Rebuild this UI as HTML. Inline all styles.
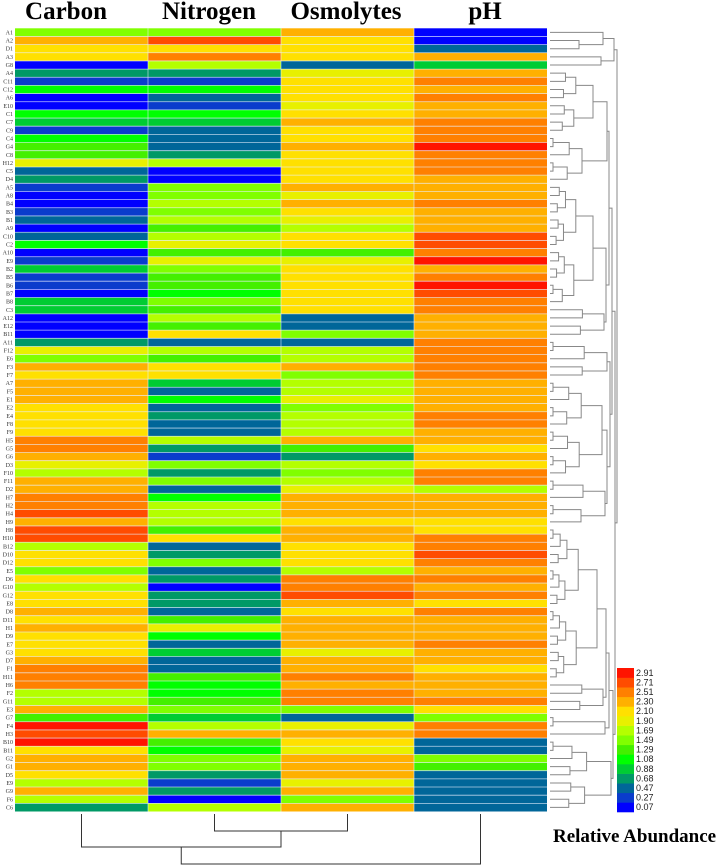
<!DOCTYPE html>
<html><head><meta charset="utf-8">
<style>
html,body{margin:0;padding:0;background:#fff;width:716px;height:866px;overflow:hidden}
svg{display:block}
</style></head>
<body>
<svg id="chart" width="716" height="866" viewBox="0 0 716 866" xmlns="http://www.w3.org/2000/svg">
<g id="titles" font-family="Liberation Serif, serif" font-weight="bold" font-size="25" text-anchor="middle">
<text x="66" y="19">Carbon</text>
<text x="209" y="19">Nitrogen</text>
<text x="346" y="19">Osmolytes</text>
<text x="485" y="19">pH</text>
</g>
<g id="cells"></g>
<g id="rowlabels" font-family="Liberation Serif, serif" font-size="6" fill="#333" text-anchor="end"></g>
<g id="rowdendro" stroke="#888" stroke-width="1" fill="none"></g>
<g id="coldendro" stroke="#333" stroke-width="1" fill="none"></g>
<g id="legend" font-family="Liberation Sans, sans-serif" font-size="9" fill="#222"></g>
<text x="553" y="842" font-family="Liberation Serif, serif" font-weight="bold" font-size="19">Relative Abundance</text>
</svg>
<script>
const rowLabels = ["A1","A2","D1","A3","G8","A4","C11","C12","A6","E10","C1","C7","C9","C4","G4","C8","H12","C5","D4","A5","A8","B4","B3","B1",
"A9","C10","C2","A10","E9","B2","B5","B6","B7","B8","C3","A12","E12","B11","A11","F12","E6","F3","F7","A7","F5","E1","E2","E4","F8",
"F9","H5","G5","G6","D3","F10","F11","D2","H7","H2","H4","H9","H8","H10","B12","D10","D12","E5","D6","G10","G12","E8","D8","D11","H1",
"D9","E7","G3","D7","F1","H11","H6","F2","G11","E3","G7","F4","H3","B10","B11","G2","G1","D5","E9","G9","F6","C6"];
const columns = ["Carbon","Nitrogen","Osmolytes","pH"];
const legendTicks = [0.07,0.27,0.47,0.68,0.88,1.08,1.29,1.49,1.69,1.90,2.10,2.30,2.51,2.71,2.91];
const legendColors = ["#0000ff","#0a3ccc","#006699","#009966","#00cc33","#00ff00","#44f000","#80ff00","#b4ff00","#e8f000","#ffe000","#ffb000","#ff8000","#ff4c00","#ff1400"];
const carbon = [1.49,2.30,2.10,2.10,0.07,0.68,0.27,1.08,0.07,0.07,1.08,0.88,0.27,1.08,1.29,1.29,1.90,0.47,0.68,0.27,0.07,0.07,0.27,0.47,
0.07,0.47,1.08,0.07,0.27,0.88,0.27,0.27,0.07,0.88,0.88,0.07,0.07,0.07,0.68,1.90,1.49,2.30,2.10,2.30,2.30,2.30,2.10,2.10,2.10,
2.10,2.51,2.51,2.30,1.90,1.69,2.30,2.30,2.51,2.51,2.71,2.30,2.71,2.71,1.69,2.10,2.10,1.49,2.10,1.69,2.10,2.10,2.30,2.10,2.30,
2.10,2.10,2.10,2.30,2.51,2.51,2.51,1.69,1.69,2.30,1.29,2.91,2.71,2.91,2.10,2.30,2.30,2.10,1.69,2.30,1.69,0.68];
const nitrogen = [1.49,2.71,2.10,2.51,1.69,0.68,0.27,1.08,0.47,0.27,1.08,0.88,0.47,0.47,0.47,0.68,1.69,0.07,0.07,1.49,1.49,1.69,1.49,1.69,
1.29,1.69,1.90,1.29,1.90,1.49,1.29,1.29,1.08,1.49,1.29,1.69,1.29,2.10,0.47,1.69,1.29,2.10,2.10,0.88,0.47,1.08,0.47,0.68,0.47,
0.47,1.69,0.68,0.27,1.49,0.68,1.49,0.47,1.08,1.69,1.69,1.69,1.29,2.10,0.47,0.68,1.49,0.47,0.68,0.07,0.68,0.68,0.47,1.29,1.90,
1.08,0.47,0.88,0.47,0.47,1.29,1.08,1.08,1.29,1.49,0.88,1.69,2.30,1.29,1.08,1.49,1.49,0.68,0.27,0.68,0.07,1.69];
const osmolytes = [2.30,2.10,2.10,2.10,0.47,1.90,2.10,2.10,2.10,1.90,2.10,2.30,2.10,2.10,2.30,2.10,2.10,2.10,2.10,2.30,1.90,2.30,2.10,1.90,
1.69,2.10,2.10,1.29,1.90,2.10,2.10,2.10,2.10,2.10,2.10,0.47,0.47,1.49,0.47,1.69,1.69,2.30,1.49,1.69,1.69,1.90,1.49,1.69,1.69,
1.69,2.30,1.29,0.68,1.69,1.49,1.69,1.90,2.30,2.30,2.30,2.10,2.30,2.30,2.10,2.10,2.10,1.69,2.51,2.51,2.71,2.30,2.10,2.30,2.30,
2.30,2.30,1.90,2.30,2.30,2.51,2.30,2.51,2.51,1.49,0.47,1.90,2.30,2.10,1.90,2.30,2.30,2.30,1.90,2.30,1.49,2.30];
const ph = [0.07,0.07,0.47,2.30,0.88,2.30,2.51,2.30,2.51,2.30,2.30,2.51,2.51,2.51,2.91,2.51,2.51,2.51,2.30,2.30,2.30,2.51,2.30,2.30,
2.30,2.71,2.71,2.51,2.91,2.30,2.51,2.91,2.71,2.51,2.51,2.30,2.30,2.30,2.51,2.51,2.51,2.51,2.51,2.30,2.30,2.30,2.30,2.51,2.51,
2.30,2.30,2.10,2.30,2.10,2.51,2.51,1.69,2.30,2.30,2.30,2.10,2.10,2.51,2.51,2.71,2.51,2.30,2.51,2.30,2.51,2.10,2.51,2.30,2.30,
2.30,2.51,2.30,2.30,2.10,2.30,2.30,2.30,2.51,2.10,1.49,2.51,2.51,0.47,0.47,1.49,1.29,0.47,0.47,0.47,0.47,0.47];

const NS = "http://www.w3.org/2000/svg";
const X0 = 15, X1 = 547, Y0 = 28.3, Y1 = 811.5;
const colW = (X1 - X0) / columns.length;
const rowH = (Y1 - Y0) / rowLabels.length;
function xScale(c){ return X0 + c * colW; }
function yScale(r){ return Y0 + r * rowH; }
function colorFor(v){
  let best = 0, bd = Infinity;
  legendTicks.forEach((t,i)=>{ const d = Math.abs(t - v); if (d < bd){ bd = d; best = i; } });
  return legendColors[best];
}
function mk(tag, attrs){ const e = document.createElementNS(NS, tag); for (const k in attrs) e.setAttribute(k, attrs[k]); return e; }

const series = [carbon, nitrogen, osmolytes, ph];
const cells = document.getElementById('cells');
series.forEach((arr, c) => {
  arr.forEach((v, r) => {
    const rect = mk('rect', {x: xScale(c), y: yScale(r), width: colW, height: rowH, fill: colorFor(v)});
    
    
    cells.appendChild(rect);
  });
});
for (let r = 1; r < rowLabels.length; r++) {
  const ln = mk('line', {x1: X0, x2: X1, y1: yScale(r), y2: yScale(r), stroke: '#e8f0ff', 'stroke-width': 0.8, 'stroke-opacity': 0.75});
  
  
  cells.appendChild(ln);
}
for (let c = 1; c < columns.length; c++) {
  const ln = mk('line', {x1: xScale(c), x2: xScale(c), y1: Y0, y2: Y1, stroke: '#e8f0ff', 'stroke-width': 0.8, 'stroke-opacity': 0.7});
  
  
  cells.appendChild(ln);
}
const rl = document.getElementById('rowlabels');
rowLabels.forEach((l, r) => {
  const t = mk('text', {x: 13, y: yScale(r) + rowH/2 + 2});
  t.textContent = l;
  
  
  rl.appendChild(t);
});

const rd = document.getElementById('rowdendro');
const LEAFX = 550;
function leafY(i){ return yScale(i) + rowH/2; }
function cl(a, b, h){
  if (a === b) return {y: leafY(a), x: LEAFX};
  const m = Math.floor((a + b) / 2);
  const span = b - a;
  const sub = LEAFX + (h - LEAFX) * 0.6;
  const L = cl(a, m, span > 2 ? sub : LEAFX + 3);
  const R = cl(m + 1, b, span > 2 ? sub - 2 : LEAFX + 3);
  return join(L, R, h);
}
function join(L, R, h){
  const p = mk('path', {d: `M${L.x},${L.y}H${h}V${R.y}H${R.x}`});
  
  
  rd.appendChild(p);
  return {y: (L.y + R.y) / 2, x: h};
}
const G0 = join(join({x:LEAFX,y:leafY(0)}, join({x:LEAFX,y:leafY(1)},{x:LEAFX,y:leafY(2)},579), 603), join({x:LEAFX,y:leafY(3)},{x:LEAFX,y:leafY(4)},601), 614);
const G1 = join(cl(5,12,593), cl(13,18,582), 607);
const G2 = join(cl(19,33,593), cl(34,37,604), 606);
const G3 = cl(38,42,607);
const G4 = join(cl(43,54,602), cl(55,60,605), 607);
const G5 = join(cl(61,79,597), cl(80,83,603), 606);
const G6 = cl(84,86,605);
const G7 = cl(87,95,611);
const GM = join(join(G1,G2,609), join(G3,G4,610), 612);
const GN = join(join(G5,G6,609), G7, 613);
const GR = join(GM, GN, 615);
join(G0, GR, 617);

const cd = document.getElementById('coldendro');
function colX(c){ return xScale(c) + colW/2; }
function cpath(d){ const p = mk('path', {d});   cd.appendChild(p); }
const TOPY = 814;
cpath(`M${colX(1)},${TOPY}V831H${colX(2)}V${TOPY}`);
const nox = (colX(1)+colX(2))/2;
cpath(`M${colX(0)},${TOPY}V847H${nox}V831`);
const cnx = (colX(0)+nox)/2;
cpath(`M${cnx},847V864H${colX(3)}V${TOPY}`);

const lg = document.getElementById('legend');
const LX = 617, LW = 17, LT = 668, LB = 812;
const binH = (LB - LT) / legendTicks.length;
legendTicks.forEach((t, i) => {
  const y = LB - (i + 1) * binH;
  const r = mk('rect', {x: LX, y: y, width: LW, height: binH + 0.3, fill: legendColors[i]});
  
  
  lg.appendChild(r);
  const tx = mk('text', {x: LX + LW + 2, y: y + binH/2 + 3});
  tx.textContent = t.toFixed(2);
  
  
  lg.appendChild(tx);
});
</script>
</body></html>
